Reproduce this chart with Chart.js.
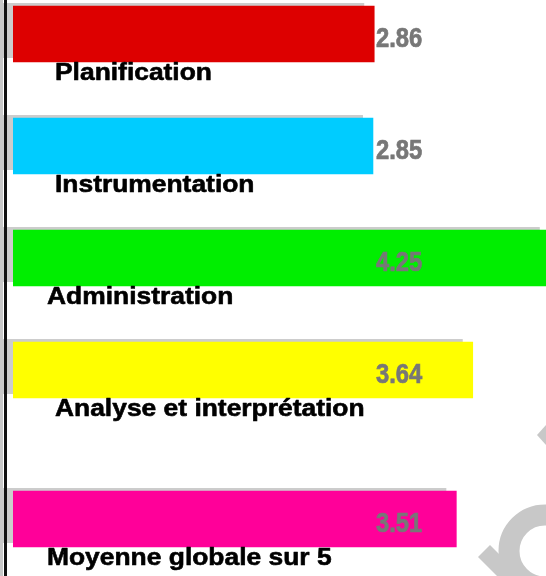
<!DOCTYPE html>
<html><head><meta charset="utf-8">
<script src="https://cdn.jsdelivr.net/npm/chart.js@4/dist/chart.umd.min.js"></script>
<style>html,body{margin:0;padding:0;background:#fff;overflow:hidden}canvas{display:block}</style>
</head><body>
<canvas id="c" width="546" height="576"></canvas>
<script>
const categories = ["Planification", "Instrumentation", "Administration", "Analyse et interprétation", "Moyenne globale sur 5"];
const scores = [2.86, 2.85, 4.25, 3.64, 3.51];
const slots = [0, 1, 2, 3, 4.33];
const valueLabels = ["2.86", "2.85", "4.25", "3.64", "3.51"];
const barColors = ["#dd0000", "#00ccff", "#00ee00", "#ffff00", "#ff0099"];
const labelIndent = [42, 42, 34, 42, 34];

const decor = {
  id: 'decor',
  beforeDatasetsDraw(chart) {
    const ctx = chart.ctx;
    const meta = chart.getDatasetMeta(0);
    ctx.save();
    ctx.fillStyle = '#cccccc';
    meta.data.forEach(b => {
      const p = b.getProps(['x', 'y', 'base', 'height'], true);
      const top = p.y - p.height / 2;
      ctx.fillRect(p.base - 10, top - 3, p.x - p.base, p.height - 1);
    });
    ctx.restore();
  },
  afterDatasetsDraw(chart) {
    const ctx = chart.ctx;
    const meta = chart.getDatasetMeta(0);
    const area = chart.chartArea;
    ctx.save();
    ctx.fillStyle = '#c8c8c8';
    ctx.fillRect(0, 0, 3, chart.height);
    ctx.fillStyle = '#111111';
    ctx.fillRect(4, 0, 3, chart.height);
    ctx.restore();
    meta.data.forEach((b, i) => {
      const p = b.getProps(['y', 'height'], true);
      const bottom = p.y + p.height / 2;
      ctx.save();
      ctx.font = 'bold 24px "Liberation Sans", Arial, sans-serif';
      ctx.fillStyle = '#000';
      ctx.strokeStyle = '#000';
      ctx.lineWidth = 0.6;
      ctx.lineJoin = 'round';
      ctx.textBaseline = 'alphabetic';
      ctx.translate(area.left + labelIndent[i], bottom + 18);
      ctx.scale(1.1, 1);
      ctx.fillText(categories[i], 0, 0);
      ctx.strokeText(categories[i], 0, 0);
      ctx.restore();
      ctx.save();
      ctx.font = 'bold 27px "Liberation Sans", Arial, sans-serif';
      ctx.fillStyle = '#777777';
      ctx.strokeStyle = '#777777';
      ctx.lineWidth = 0.7;
      ctx.textBaseline = 'alphabetic';
      ctx.translate(area.left + 363, p.y + 13);
      ctx.scale(0.88, 1);
      ctx.fillText(valueLabels[i], 0, 0);
      ctx.strokeText(valueLabels[i], 0, 0);
      ctx.restore();
    });
    // watermark
    ctx.save();
    ctx.strokeStyle = '#c8c8c8';
    ctx.fillStyle = '#c8c8c8';
    ctx.lineWidth = 21;
    ctx.beginPath();
    ctx.arc(545, 551, 36, 0, Math.PI * 2);
    ctx.stroke();
    ctx.lineWidth = 17;
    ctx.lineCap = 'butt';
    ctx.beginPath();
    ctx.moveTo(484, 551);
    ctx.lineTo(514, 581);
    ctx.stroke();
    ctx.beginPath();
    ctx.moveTo(537, 435);
    ctx.lineTo(547, 424);
    ctx.lineTo(547, 446);
    ctx.closePath();
    ctx.fill();
    ctx.restore();
  }
};

new Chart(document.getElementById('c'), {
  type: 'bar',
  data: {
    datasets: [{
      data: scores.map((v, i) => ({ x: v, y: slots[i] })),
      backgroundColor: barColors,
      barThickness: 56,
      borderWidth: 0
    }]
  },
  options: {
    indexAxis: 'y',
    responsive: false,
    animation: false,
    devicePixelRatio: 1,
    layout: { padding: { left: 13, right: 0, top: 0, bottom: 0 } },
    scales: {
      x: { type: 'linear', min: 0, max: 4.22, display: false, offset: false },
      y: { type: 'linear', min: -0.3036, max: 4.839, reverse: true, display: false, offset: false }
    },
    plugins: { legend: { display: false }, tooltip: { enabled: false } }
  },
  plugins: [decor]
});
</script>
</body></html>
